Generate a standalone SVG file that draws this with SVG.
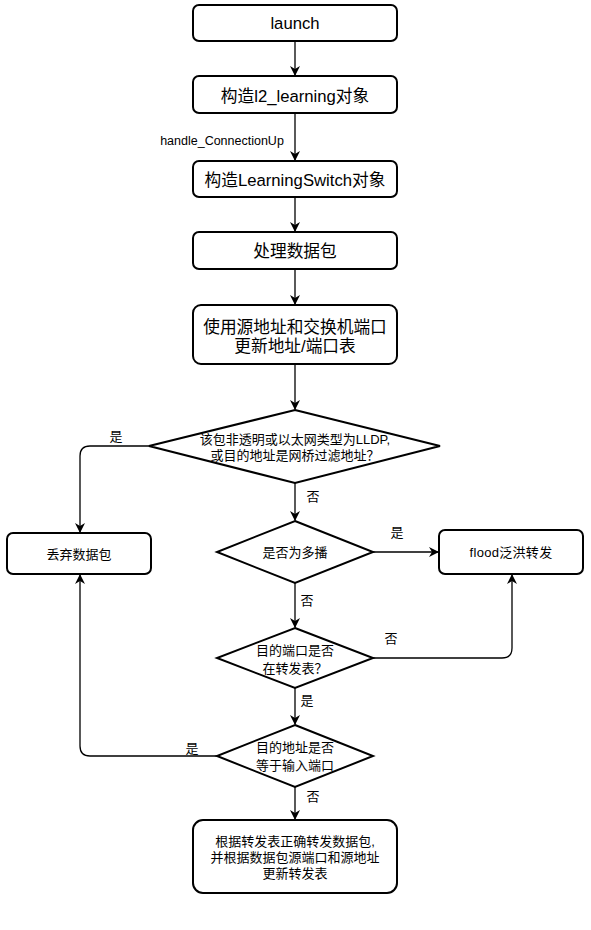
<svg xmlns="http://www.w3.org/2000/svg" width="591" height="930" viewBox="0 0 591 930">
<style>
.box{fill:#fff;stroke:#000;stroke-width:2}
.t{font-family:"Liberation Sans","Noto Sans CJK SC",sans-serif;fill:#000;text-anchor:middle;dominant-baseline:central}
.b{font-size:16.7px}
.s{font-size:13px}
.e{fill:none;stroke:#000;stroke-width:1.3;marker-end:url(#arr)}
</style>
<defs>
<marker id="arr" viewBox="0 0 10 10" refX="9" refY="5" markerWidth="10" markerHeight="10" markerUnits="userSpaceOnUse" orient="auto">
<path d="M0,0 L10,5 L0,10 L3,5 Z" fill="#000"/>
</marker>
</defs>
<rect width="591" height="930" fill="#fff"/>
<g id="connectors">
<path class="e" d="M295,41 V75"/>
<path class="e" d="M295,113 V160"/>
<path class="e" d="M295,197 V231"/>
<path class="e" d="M295,269 V304"/>
<path class="e" d="M295,364 V409"/>
<path class="e" d="M149,446 H90 Q80,446 80,456 V532"/>
<path class="e" d="M295,483 V520"/>
<path class="e" d="M373,552 H438"/>
<path class="e" d="M295,583 V627"/>
<path class="e" d="M373,658 H502 Q512,658 512,648 V575"/>
<path class="e" d="M295,688 V724"/>
<path class="e" d="M217,756 H90 Q80,756 80,746 V575"/>
<path class="e" d="M295,787 V819"/>
<text class="t" x="222" y="141" style="font-size:12.5px">handle_ConnectionUp</text>
<text class="t s" x="116" y="436">是</text>
<text class="t s" x="313" y="496">否</text>
<text class="t s" x="397" y="532">是</text>
<text class="t s" x="307" y="600">否</text>
<text class="t s" x="391" y="638">否</text>
<text class="t s" x="307" y="700">是</text>
<text class="t s" x="192" y="748">是</text>
<text class="t s" x="313" y="796">否</text>
</g>
<g id="launch"><rect class="box" x="193" y="5" width="204" height="36" rx="6"/><text class="t b" x="295" y="23">launch</text></g>
<g id="l2learning"><rect class="box" x="193" y="76" width="204" height="37" rx="6"/><text class="t b" x="295" y="96">构造l2_learning对象</text></g>
<g id="learningswitch"><rect class="box" x="193" y="161" width="204" height="36" rx="6"/><text class="t b" x="295" y="180">构造LearningSwitch对象</text></g>
<g id="process"><rect class="box" x="193" y="232" width="204" height="37" rx="6"/><text class="t b" x="295" y="251">处理数据包</text></g>
<g id="update"><rect class="box" x="193" y="305" width="204" height="59" rx="8"/><text class="t b" x="295" y="327">使用源地址和交换机端口</text><text class="t b" x="295" y="346">更新地址/端口表</text></g>
<g id="d1"><polygon class="box" points="295,410 440,446 295,483 149,446"/><text class="t s" x="295" y="439">该包非透明或以太网类型为LLDP,</text><text class="t s" x="295" y="455">或目的地址是网桥过滤地址？</text></g>
<g id="drop"><rect class="box" x="7" y="533" width="144" height="41" rx="6"/><text class="t s" x="79" y="554">丢弃数据包</text></g>
<g id="d2"><polygon class="box" points="295,521 373,552 295,583 217,552"/><text class="t s" x="295" y="552">是否为多播</text></g>
<g id="flood"><rect class="box" x="439" y="530" width="144" height="44" rx="6"/><text class="t s" x="511" y="552" style="letter-spacing:0.3px">flood泛洪转发</text></g>
<g id="d3"><polygon class="box" points="295,628 373,658 295,688 217,658"/><text class="t s" x="295" y="650">目的端口是否</text><text class="t s" x="295" y="668">在转发表？</text></g>
<g id="d4"><polygon class="box" points="295,725 373,756 295,787 217,756"/><text class="t s" x="295" y="747">目的地址是否</text><text class="t s" x="295" y="765">等于输入端口</text></g>
<g id="forward"><rect class="box" x="193" y="820" width="204" height="73" rx="10"/><text class="t s" x="295" y="841">根据转发表正确转发数据包,</text><text class="t s" x="295" y="857">并根据数据包源端口和源地址</text><text class="t s" x="295" y="873">更新转发表</text></g>
</svg>
